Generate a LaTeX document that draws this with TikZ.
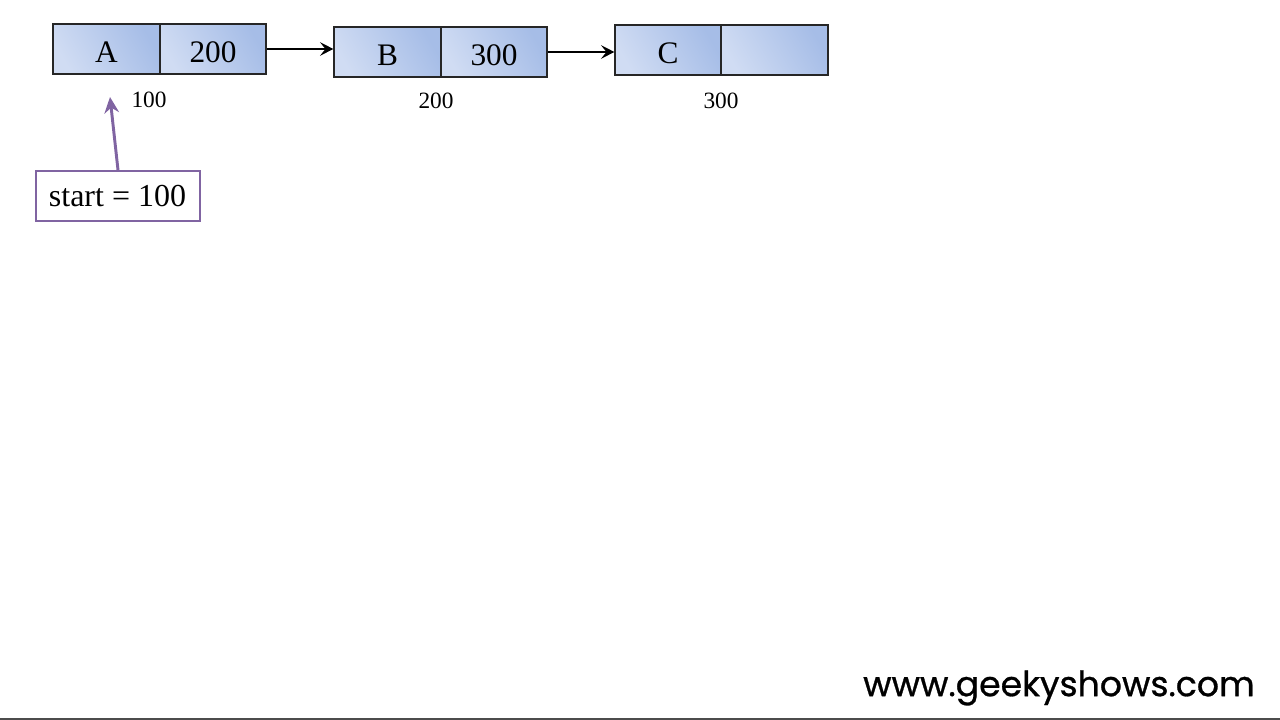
\documentclass[tikz,border=0pt]{standalone}
\usepackage{fontspec}
\setmainfont{Liberation Serif}
\newfontfamily\wmfont[FakeBold=0.8]{Poppins}
\usetikzlibrary{arrows.meta}
\definecolor{cellL}{HTML}{D0DCF3}
\definecolor{cellR}{HTML}{A6BDE7}
\definecolor{startpurple}{HTML}{8064A2}
\tikzset{
  cell/.style={draw=black!85, line width=0.8pt, left color=cellL, right color=cellR, shading angle=120,
    minimum height=37.5pt, inner sep=0pt, text depth=0pt, text height=20pt, font=\fontsize{23.5}{26}\selectfont},
  addr/.style={font=\fontsize{17.5}{20}\selectfont, inner sep=0pt},
  link/.style={-{Stealth[length=10pt,width=10pt,inset=4pt]}, line width=2.2pt},
}
\begin{document}
\begin{tikzpicture}[x=0.75pt,y=-0.75pt]
\useasboundingbox (0,0) rectangle (1280,720);
% node A
\node[cell, minimum width=80.25pt] (Ad) at (106.5,49) {A};
\node[cell, minimum width=79.5pt] (Ap) at (213,49) {200};
% node B
\node[cell, minimum width=80.25pt] (Bd) at (387.5,52) {B};
\node[cell, minimum width=79.5pt] (Bp) at (494,52) {300};
% node C
\node[cell, minimum width=79.5pt] (Cd) at (668,50) {C};
\node[cell, minimum width=80.25pt] (Cp) at (774.5,50) {};
% addresses
\node[addr] (a100) at (149,100) {100};
\node[addr] (a200) at (436,101) {200};
\node[addr] (a300) at (721,101) {300};
% links
\draw[link] (Ap.east) -- (Bd.west |- Ap.east);
\draw[link] (Bp.east) -- (Cd.west |- Bp.east);
% start
\node[draw=startpurple, line width=1.5pt, minimum width=123pt, minimum height=37.5pt,
  inner sep=0pt, font=\fontsize{24}{28}\selectfont] (start) at (117.5,196) {start = 100};
\coordinate (tipA) at (110,97);
\draw[startpurple, line width=2.2pt, -{Stealth[length=12pt,width=11pt,inset=4pt]}]
  (start.north -| 118,0) -- (tipA);
% watermark
\node[font=\wmfont\fontsize{26}{30}\selectfont, anchor=east, inner sep=0pt] (wm) at (1255,688) {www.geekyshows.com};
\coordinate (bl) at (0,719);
\coordinate (br) at (1280,719);
\draw[black!70, line width=1.5pt] (bl) -- (br);
\end{tikzpicture}
\end{document}
